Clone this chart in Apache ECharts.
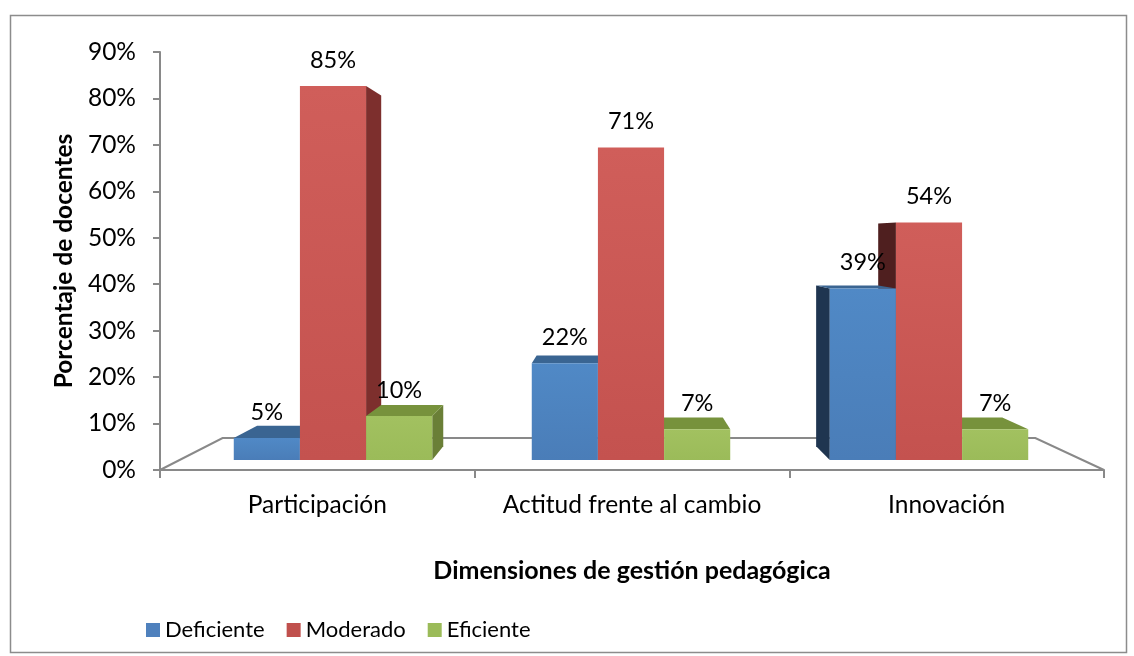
<!DOCTYPE html>
<html>
<head>
<meta charset="utf-8">
<script src="https://cdn.jsdelivr.net/npm/echarts@6/dist/echarts.min.js"></script>
<style>
html,body{margin:0;padding:0;background:#fff;}
#c{width:1134px;height:656px;}
</style>
</head>
<body>
<div id="c"></div>
<script>
// ---- data ----
const categories = ['Participación', 'Actitud frente al cambio', 'Innovación'];
const seriesNames = ['Deficiente', 'Moderado', 'Eficiente'];
const deficiente = [5, 22, 39];
const moderado = [85, 71, 54];
const eficiente = [10, 7, 7];
const yTicks = [0, 10, 20, 30, 40, 50, 60, 70, 80, 90];

// ---- styles ----
const FONT = 'Lato';
const palettes = [
  {front: ['#5089C6', '#4A7DB8'], top: '#3A6592', right: '#2E4D73', left: '#1F3550', legend: '#4F81BD'},
  {front: ['#D05E5A', '#C4524F'], top: '#9A3E3C', right: '#7D2F2D', left: '#4F1F1F', legend: '#C0504D'},
  {front: ['#A2C160', '#9BBB59'], top: '#77923C', right: '#6A7F37', left: '#4E5E28', legend: '#9BBB59'}
];
const VP = [610, 240];      // perspective vanishing point (layout)
const K_BAR = 0.062;        // bar depth factor
const K_FLOOR = 0.139;      // floor depth factor
const BAR_FRAC = 0.222;     // bar width as fraction of category band
const LABEL_GAP = 26;
const AXIS_COLOR = '#898989';

function back(p, k) { return [p[0] + k * (VP[0] - p[0]), p[1] + k * (VP[1] - p[1])]; }

function makeRender(si) {
  const pal = palettes[si];
  const off = si - 1;
  return function (params, api) {
    const cat = api.value(0), val = api.value(1);
    const base = api.coord([cat, 0]);
    const topP = api.coord([cat, val]);
    const band = api.size([1, 0])[0];
    const w = band * BAR_FRAC;
    const x0 = base[0] + (off - 0.5) * w, x1 = x0 + w;
    const y0 = topP[1], y1 = base[1];
    const children = [];
    const TL = [x0, y0], TR = [x1, y0], BL = [x0, y1], BR = [x1, y1];
    const bTL = back(TL, K_BAR), bTR = back(TR, K_BAR), bBL = back(BL, K_BAR), bBR = back(BR, K_BAR);
    if (x1 < VP[0]) {
      children.push({type: 'polygon', z2: 1, shape: {points: [TR, bTR, bBR, BR]}, style: {fill: pal.right}});
    }
    if (x0 > VP[0]) {
      children.push({type: 'polygon', z2: 1, shape: {points: [TL, bTL, bBL, BL]}, style: {fill: pal.left}});
    }
    if (y0 > VP[1]) {
      children.push({type: 'polygon', z2: 2, shape: {points: [TL, TR, bTR, bTL]}, style: {fill: pal.top}});
    }
    children.push({
      type: 'rect', z2: 3,
      shape: {x: x0, y: y0, width: w, height: y1 - y0},
      style: {fill: new echarts.graphic.LinearGradient(0, 0, 0, 1, [
        {offset: 0, color: pal.front[0]}, {offset: 1, color: pal.front[1]}])}
    });
    children.push({
      type: 'text', z2: 4,
      x: (x0 + x1) / 2, y: y0 - LABEL_GAP,
      style: {text: val + '%', fontFamily: FONT, fontSize: 23.5, fill: '#000', align: 'center', verticalAlign: 'middle'}
    });
    return {type: 'group', children: children};
  };
}

function renderFloor(params, api) {
  const cs = params.coordSys;
  const FL = [cs.x, cs.y + cs.height], FR = [cs.x + cs.width, cs.y + cs.height];
  const BLf = back(FL, K_FLOOR), BRf = back(FR, K_FLOOR);
  return {
    type: 'polyline', z2: 0,
    shape: {points: [FL, BLf, BRf, FR]},
    style: {stroke: AXIS_COLOR, lineWidth: 2, fill: null}
  };
}

const seriesData = [deficiente, moderado, eficiente];

const chart = echarts.init(document.getElementById('c'), null, {renderer: 'canvas'});
chart.setOption({
  animation: false,
  backgroundColor: '#fff',
  graphic: [{
    type: 'rect', left: 8, top: 13, z: -10,
    shape: {width: 1116, height: 637},
    style: {fill: null, stroke: '#8c8c8c', lineWidth: 1.5}
  }],
  legend: {
    left: 141, top: 614,
    icon: 'rect', itemWidth: 14, itemHeight: 14, itemGap: 22,
    textStyle: {fontFamily: FONT, fontSize: 22, color: '#000'},
    data: seriesNames
  },
  grid: [
    {left: 160, right: 30, top: 52, bottom: 186},
    {left: 184, right: 56, top: 64, bottom: 196}
  ],
  xAxis: [{
    gridIndex: 0, type: 'category', data: categories,
    axisLine: {lineStyle: {color: AXIS_COLOR, width: 2}},
    axisTick: {show: true, length: 8, lineStyle: {color: AXIS_COLOR, width: 2}},
    axisLabel: {fontFamily: FONT, fontSize: 24.5, color: '#000', margin: 23, interval: 0},
    name: 'Dimensiones de gestión pedagógica', nameLocation: 'middle', nameGap: 88,
    nameTextStyle: {fontFamily: FONT, fontSize: 25, fontWeight: 'bold', color: '#000'}
  }, {
    gridIndex: 1, type: 'category', data: categories, show: false
  }],
  yAxis: [{
    gridIndex: 0, type: 'value', min: yTicks[0], max: yTicks[yTicks.length - 1], interval: 10,
    axisLine: {show: true, lineStyle: {color: AXIS_COLOR, width: 2}},
    axisTick: {show: true, length: 7, lineStyle: {color: AXIS_COLOR, width: 2}},
    splitLine: {show: false},
    axisLabel: {fontFamily: FONT, fontSize: 24.5, color: '#000', margin: 24, formatter: '{value}%'},
    name: 'Porcentaje de docentes', nameLocation: 'middle', nameGap: 80, nameRotate: 90,
    nameTextStyle: {fontFamily: FONT, fontSize: 24.5, fontWeight: 'bold', color: '#000'}
  }, {
    gridIndex: 1, type: 'value', min: yTicks[0], max: yTicks[yTicks.length - 1], show: false
  }],
  series: [
    {type: 'custom', name: '_floor', xAxisIndex: 0, yAxisIndex: 0, data: [[0, 0]], renderItem: renderFloor, silent: true, z: 1}
  ].concat(seriesNames.map((n, si) => ({
    type: 'custom', name: n, xAxisIndex: 1, yAxisIndex: 1,
    itemStyle: {color: palettes[si].legend},
    encode: {x: 0, y: 1},
    data: categories.map((c, i) => [i, seriesData[si][i]]),
    renderItem: makeRender(si),
    z: 2
  })))
});
</script>
</body>
</html>
